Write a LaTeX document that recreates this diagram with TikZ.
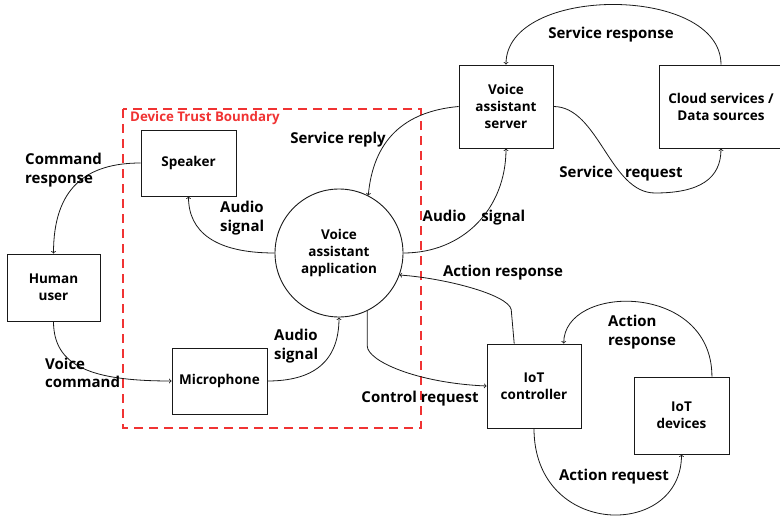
\documentclass[tikz,border=0pt]{standalone}
\usepackage{fontspec}
\setmainfont{Open Sans}
\usetikzlibrary{arrows}
\definecolor{ffqqqq}{rgb}{0.94,0.2,0.2}
\definecolor{qqqqqq}{rgb}{0.1,0.1,0.1}

\begin{document}
\begin{tikzpicture}[x=1pt,y=-1pt,
	blk/.style={draw=qqqqqq,line width=0.9pt,inner sep=0pt,align=center,font=\fontsize{13.5}{17}\selectfont\bfseries},
	lbl/.style={inner sep=0pt,align=left,font=\fontsize{15}{18.5}\selectfont\bfseries},
	flow/.style={->,line width=0.8pt,color=qqqqqq}]
			\useasboundingbox (0,0) rectangle (780,519);
			% trust boundary
			\draw [line width=1.6pt,dash pattern=on 9pt off 6pt,color=ffqqqq] (123,109) rectangle (421,428);
			\node [anchor=west,inner sep=0pt,text=ffqqqq,font=\fontsize{13.3}{15}\selectfont\bfseries] (dtb) at (130,118) {Device Trust Boundary};
			% boxes
			\node [blk,minimum width=95,minimum height=66] (spk) at (188.5,163) {Speaker};
			\node [blk,minimum width=93,minimum height=67] (usr) at (53.5,287.5) {Human\\user};
			\node [blk,minimum width=95,minimum height=66] (mic) at (219.5,381) {Microphone};
			\node [blk,circle,minimum size=128] (app) at (339,253) {Voice\\assistant\\application};
			\node [blk,minimum width=94,minimum height=83] (srv) at (506,106.5) {Voice\\assistant\\server};
			\node [blk,minimum width=124,minimum height=83] (cld) at (721,106.5) {Cloud services /\\Data sources};
			\node [blk,minimum width=94,minimum height=84] (ctl) at (534,386) {IoT\\controller};
			\node [blk,minimum width=95,minimum height=77] (dev) at (681.5,415.5) {IoT\\devices};
			% flows
			\draw [flow] (spk.west) .. controls +(-55,0) and +(0,-65) .. (usr.north);
			\draw [flow] (usr.south) .. controls +(0,45) and +(-80,0) .. (mic.west);
			\draw [flow] (app.west) .. controls +(-60,0) and +(0,35) .. (spk.south);
			\draw [flow] (mic.east) .. controls +(45,0) and +(0,45) .. (app.south);
			\draw [flow] (srv.west) .. controls +(-55,5) and +(5,-55) .. (app.63);
			\draw [flow] (app.east) .. controls +(60,0) and +(0,60) .. (srv.south);
			\draw [flow] (srv.east) .. controls +(45,0) and +(-45,0) .. (655,193) .. controls +(45,0) and +(0,30) .. (cld.south);
			\draw [flow] (cld.north) .. controls +(0,-80) and +(0,-80) .. (srv.north);
			\draw [flow] (app.-64) -- +(0,35) .. controls +(0,15) and +(-70,-3) .. (ctl.west);
			\draw [flow] (ctl.115) -- +(-3,-34) .. controls +(-3,-15) and +(45,3) .. (app.-20);
			\draw [flow] (dev.52) .. controls +(0,-95) and +(0,-60) .. (ctl.55);
			\draw [flow] (ctl.south) .. controls +(0,110) and +(0,85) .. (dev.south);
			% labels
			\node [lbl,anchor=west] (lcr) at (25,170) {Command\\response};
			\node [lbl,anchor=west] (lvc) at (45,373) {Voice\\command};
			\node [lbl,anchor=west] (las1) at (220,218) {Audio\\signal};
			\node [lbl,anchor=west] (las2) at (274,346) {Audio\\signal};
			\node [lbl] (lsr) at (338,140) {Service reply};
			\node [lbl] (las3) at (474,218) {Audio\hspace{1em}signal};
			\node [lbl] (lsq) at (621,174) {Service\hspace{0.8em}request};
			\node [lbl] (lsp) at (611,35) {Service response};
			\node [lbl] (lar1) at (503,273) {Action response};
			\node [lbl] (lcq) at (420,399) {Control request};
			\node [lbl,anchor=west] (lar2) at (608,332) {Action\\response};
			\node [lbl] (laq) at (614,477) {Action request};
		\end{tikzpicture}
\end{document}
